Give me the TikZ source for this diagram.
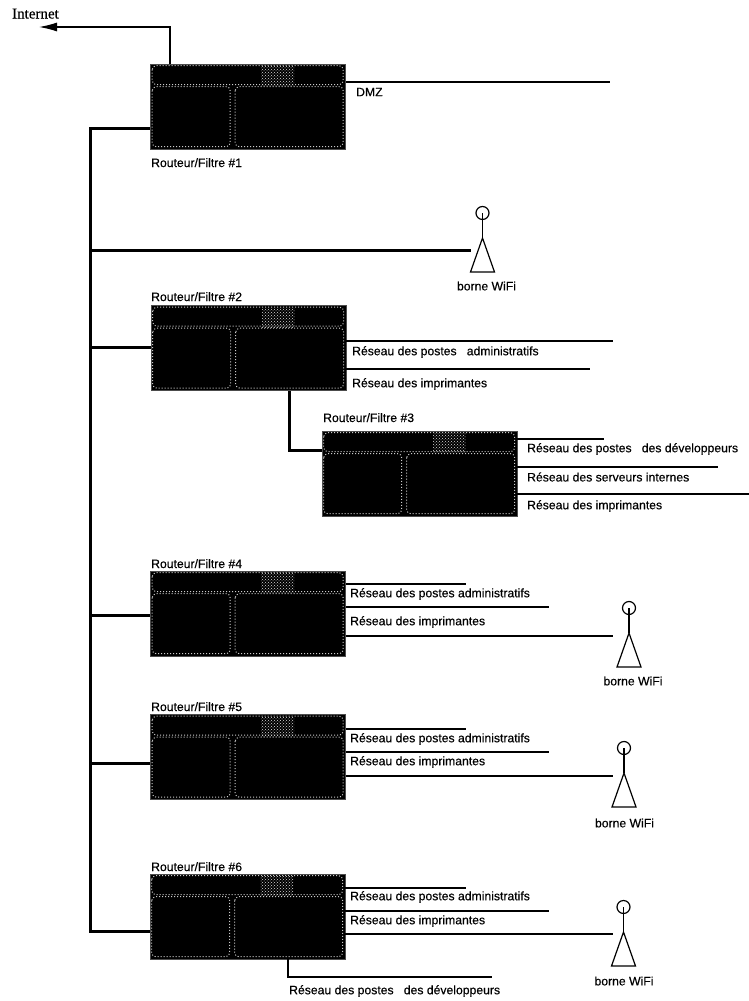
\documentclass[tikz,border=0pt]{standalone}
\usepackage{fontspec}
\setmainfont{Liberation Sans}[FakeBold=0.4]
\newfontfamily\inetfont{Liberation Serif}[FakeBold=0.3]
\usepackage{tikz}
\usetikzlibrary{arrows.meta,patterns,positioning}

\begin{document}
\begin{tikzpicture}[x=1pt, y=-1pt, >=Latex, font=\fontsize{12.2}{14}\selectfont,
  router/.style={draw=black!70, fill=black, line width=0.6pt, minimum width=195pt, minimum height=85pt, inner sep=0pt},
  rim/.style={draw=black!20, line width=1pt, dotted, rounded corners=4pt},
  link/.style={line width=1.2pt},
  bus/.style={line width=3pt},
  lab/.style={anchor=west, inner sep=0pt},
  tag/.style={anchor=base west, inner sep=0pt}]
  \useasboundingbox (0,0) rectangle (749,1001);

  % --- routers ---
  \foreach \n/\x/\y in {1/248/106.5, 2/248.5/348, 3/419.5/473.5, 4/248/613.5, 5/248/757, 6/247.5/916.5} {
    \node[router] (r\n) at (\x,\y) {};
    \begin{scope}[shift={(r\n.north west)}]
      \draw[rim] (2,2) rectangle (193,21);
      \draw[rim] (2,23) rectangle (80,83);
      \draw[rim] (85,23) rectangle (193,83);
      \fill[pattern=crosshatch dots, pattern color=black!15] (111,3) rectangle (144,22);
    \end{scope}
  }
  \node[tag] (t1) at (151,167) {Routeur/Filtre \#1};
  \node[tag] (t2) at (151,301) {Routeur/Filtre \#2};
  \node[tag] (t3) at (323,422) {Routeur/Filtre \#3};
  \node[tag] (t4) at (151,568) {Routeur/Filtre \#4};
  \node[tag] (t5) at (151,711) {Routeur/Filtre \#5};
  \node[tag] (t6) at (151,871) {Routeur/Filtre \#6};

  % --- internet ---
  \coordinate (upl) at (170,27);
  \coordinate (inet) at (39,27);
  \node[anchor=base west, inner sep=0pt, font=\inetfont\fontsize{15}{17}\selectfont] (inettxt) at (12,18.5) {Internet};
  \draw[link, -{Latex[length=18pt, width=9pt]}] (r1.north -| upl) -- (upl) -- (inet);

  % --- main bus ---
  \coordinate (bustop) at (90,128);
  \coordinate (busbot) at (90,931);
  \draw[bus] (r1.west |- bustop) -- (bustop) -- (busbot) -- (r6.west |- busbot);
  \foreach \n/\y in {2/347, 4/615, 5/763} {
    \coordinate (b\n) at (90,\y);
    \draw[bus] (b\n) -- (r\n.west |- b\n);
  }
  \coordinate (b3) at (289,450);
  \draw[bus] (r2.south -| b3) -- (b3) -- (r3.west |- b3);

  % --- antennas ---
  \foreach \n/\x/\y/\lx/\ly in {1/482.5/238/486.5/286, 2/629/633/633/681, 3/624/773/624.5/823, 4/623.5/932/624/981} {
    \coordinate (ant\n) at (\x,\y);
    \node[circle, draw, link, minimum size=13pt, inner sep=0pt] (head\n) at (\x,\y-25) {};
    \draw[link] (head\n.center) -- (ant\n);
    \draw[link] (ant\n) -- ++(12,34) -- ++(-24,0) -- cycle;
    \node[anchor=center, inner sep=0pt] (wifi\n) at (\lx,\ly) {borne WiFi};
  }
  \coordinate (b0) at (90,250);
  \coordinate (b1) at (471,250);
  \draw[bus] (b0) -- (b1);
  \foreach \n/\y/\xe [count=\a] in {4/636/613, 5/776/613, 6/934/613} {
    \coordinate (w\a) at (\xe,\y);
    \draw[link] (r\n.east |- w\a) -- (w\a);
  }

  % --- networks ---
  \foreach \r/\y/\xe/\tx/\ty/\txt [count=\i] in {
    1/82/610/356/92/DMZ,
    2/341/613/352/352/{Réseau des postes\ \ \ administratifs},
    2/369/590/352/384/Réseau des imprimantes,
    3/439/604/527/449/{Réseau des postes\ \ \ des développeurs},
    3/467/718/527/477/Réseau des serveurs internes,
    3/494/749/527/506/Réseau des imprimantes,
    4/584/466/350/594/Réseau des postes administratifs,
    4/607/549/350/622/Réseau des imprimantes,
    5/729/466/350/739/Réseau des postes administratifs,
    5/752/549/350/762/Réseau des imprimantes,
    6/888/466/350/897/Réseau des postes administratifs,
    6/911/549/350/921/Réseau des imprimantes} {
    \coordinate (n\i) at (\xe,\y);
    \draw[link] (r\r.east |- n\i) -- (n\i);
    \node[lab] (l\i) at (\tx,\ty) {\txt};
  }
  \coordinate (dv) at (288,977);
  \coordinate (dvend) at (492,977);
  \draw[link] (r6.south -| dv) -- (dv) -- (dvend);
  \node[lab] (ldv) at (289,991) {Réseau des postes\ \ \ des développeurs};
\end{tikzpicture}
\end{document}
